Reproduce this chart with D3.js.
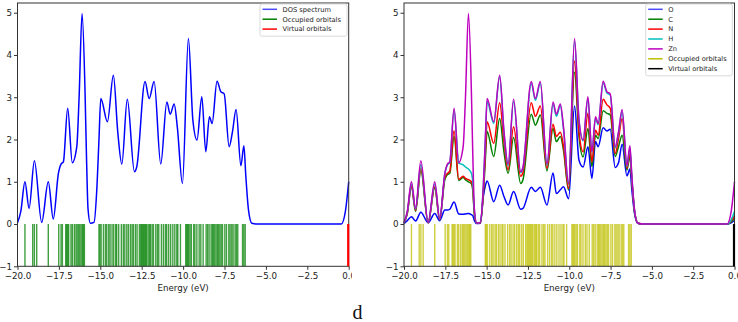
<!DOCTYPE html>
<html>
<head>
<meta charset="utf-8">
<script src="https://cdn.jsdelivr.net/npm/d3@7"></script>
<style>
  body { margin: 0; background: #fff; }
  svg { display: block; font-family: "DejaVu Sans", sans-serif; }
</style>
</head>
<body>
<div id="chart"></div>
<script>
// energy grid (eV) shared by all curves
var energy = [-20.0, -19.8, -19.55, -19.3, -18.98, -18.54, -18.14, -17.84, -17.53, -17.37,
  -17.23, -16.97, -16.69, -16.42, -16.28, -16.10, -15.92, -15.84, -15.74, -15.60,
  -15.38, -15.20, -15.08, -14.97, -14.57, -14.21, -13.95, -13.70, -13.37, -12.94,
  -12.80, -12.30, -12.05, -11.75, -11.35, -10.98, -10.78, -10.54, -10.35, -10.04,
  -9.68, -9.41, -9.16, -8.87, -8.63, -8.41, -8.25, -7.95, -7.72, -7.52,
  -7.22, -7.02, -6.80, -6.51, -6.33, -6.21, -6.05, -5.85, -5.50, -0.45,
  -0.20, 0.0];

// stacked partial DOS as plotted (each one includes the ones before)
var dosO = [0.01, 0.08, 0.17, 0.07, 0.28, 0.03, 0.25, 0.08, 0.33, 0.33,
  0.35, 0.52, 0.24, 0.23, 0.24, 0.25, 0.22, 0.20, 0.08, 0.01,
  0.02, 0.65, 0.90, 1.02, 0.53, 0.92, 0.65, 0.45, 0.77, 0.35,
  0.37, 0.87, 0.77, 0.87, 0.45, 1.21, 0.72, 0.81, 0.88, 0.60,
  2.79, 1.51, 1.35, 1.83, 1.08, 1.95, 1.83, 2.28, 2.20, 2.24,
  1.34, 1.45, 1.89, 1.14, 1.30, 0.80, 0.25, 0.02, 0.0, 0.0,
  0.03, 0.08];
var dosC = [0.02, 0.25, 0.88, 0.30, 1.26, 0.03, 0.86, 0.10, 1.05, 1.17,
  1.20, 2.07, 1.03, 1.10, 1.05, 1.00, 0.95, 0.80, 0.22, 0.02,
  0.03, 0.70, 1.50, 2.19, 1.60, 2.50, 1.70, 1.20, 2.05, 0.96,
  1.05, 2.60, 2.34, 2.58, 1.26, 2.26, 1.95, 2.07, 1.75, 0.80,
  3.60, 2.07, 1.59, 2.26, 1.36, 2.10, 2.02, 2.68, 2.62, 2.58,
  1.60, 1.83, 2.10, 1.28, 1.60, 1.00, 0.30, 0.02, 0.0, 0.0,
  0.05, 0.15];
var dosN = [0.02, 0.26, 0.90, 0.32, 1.32, 0.03, 0.88, 0.11, 1.10, 1.20,
  1.25, 2.21, 1.06, 1.13, 1.08, 1.05, 1.00, 0.85, 0.25, 0.02,
  0.03, 0.75, 1.65, 2.42, 1.91, 2.87, 1.95, 1.28, 2.30, 1.13,
  1.22, 2.87, 2.55, 2.79, 1.32, 2.36, 2.07, 2.17, 1.85, 0.84,
  3.86, 2.18, 1.71, 2.62, 1.47, 2.22, 2.10, 2.95, 2.82, 2.74,
  1.67, 2.02, 2.50, 1.32, 1.70, 1.05, 0.31, 0.02, 0.0, 0.0,
  0.07, 0.20];
var dosH = [0.02, 0.28, 0.95, 0.35, 1.40, 0.04, 0.95, 0.12, 1.18, 1.40,
  1.45, 2.70, 1.44, 1.40, 1.35, 1.30, 1.20, 1.00, 0.30, 0.02,
  0.04, 0.88, 1.95, 2.90, 2.38, 3.48, 2.15, 1.38, 2.90, 1.22,
  1.32, 3.33, 2.93, 3.33, 1.40, 2.84, 2.55, 2.80, 2.25, 0.94,
  4.33, 2.45, 1.97, 2.97, 1.70, 2.50, 2.35, 3.34, 3.10, 3.05,
  1.80, 2.15, 2.65, 1.36, 1.80, 1.10, 0.32, 0.02, 0.0, 0.0,
  0.10, 0.30];
var dosZn = [0.03, 0.30, 1.00, 0.37, 1.50, 0.04, 1.00, 0.12, 1.20, 1.42,
  1.47, 2.74, 1.45, 1.83, 3.00, 4.98, 3.10, 1.70, 0.35, 0.02,
  0.04, 0.90, 2.00, 2.97, 2.42, 3.52, 2.20, 1.42, 2.95, 1.24,
  1.35, 3.37, 2.97, 3.37, 1.42, 2.89, 2.60, 2.84, 2.30, 0.96,
  4.39, 2.46, 1.99, 3.01, 1.71, 2.54, 2.38, 3.38, 3.13, 3.08,
  1.83, 2.18, 2.71, 1.38, 1.85, 1.12, 0.33, 0.02, 0.0, 0.0,
  0.30, 1.00];

// orbital energies (eV)
var occupied = [-19.55, -19.08, -18.98, -18.84, -18.14, -17.51, -17.37, -17.29, -17.09, -17.03,
  -16.97, -16.91, -16.77, -16.69, -16.57, -16.47, -16.40, -16.32, -16.24, -16.16,
  -16.08, -16.02, -15.96, -15.08, -15.02, -14.95, -14.81, -14.69, -14.61, -14.49,
  -14.41, -14.29, -14.19, -14.07, -14.01, -13.89, -13.73, -13.61, -13.52, -13.40,
  -13.30, -13.18, -13.08, -13.00, -12.88, -12.78, -12.64, -12.56, -12.50, -12.44,
  -12.38, -12.32, -12.26, -12.20, -12.11, -12.03, -11.97, -11.87, -11.79, -11.65,
  -11.55, -11.47, -11.31, -11.19, -11.07, -10.99, -10.87, -10.75, -10.62, -10.50,
  -10.38, -10.32, -10.16, -9.84, -9.78, -9.72, -9.66, -9.58, -9.50, -9.36,
  -9.29, -9.17, -9.03, -8.93, -8.79, -8.61, -8.52, -8.43, -8.31, -8.23,
  -8.17, -8.09, -8.01, -7.93, -7.86, -7.78, -7.70, -7.62, -7.48, -7.38,
  -7.24, -7.16, -7.06, -6.98, -6.86, -6.78, -6.70, -6.41, -6.33, -6.25];
var virtualOrb = [0.0];

var xTicks = [-20, -17.5, -15, -12.5, -10, -7.5, -5, -2.5, 0];
var yTicks = [-1, 0, 1, 2, 3, 4, 5];

var svg = d3.select('#chart')
    .append('svg')
    .attr('width', 738)
    .attr('height', 322);

var drawPanel = function(opts){

    var x = d3.scaleLinear().domain([-20, 0]).range([opts.left, opts.right]);
    var y = d3.scaleLinear().domain([-1, 5.23]).range([266.3, 3]);

    var g = svg.append('g');
    if (opts.clipId) {
        svg.append('clipPath').attr('id', opts.clipId)
            .append('rect').attr('x', 0).attr('y', 0).attr('width', opts.clipW).attr('height', 322);
        g.attr('clip-path', 'url(#' + opts.clipId + ')');
    }

    // occupied orbital sticks
    g.selectAll('line.occ')
        .data(occupied)
        .enter().append('line')
        .attr('class', 'occ')
        .attr('x1', function(d){return x(d);})
        .attr('x2', function(d){return x(d);})
        .attr('y1', y(-1))
        .attr('y2', y(0))
        .style('stroke', opts.occColor)
        .style('stroke-width', 1.4)
        .style('stroke-opacity', 0.75);

    // dos curves
    var line = function(vals){
        return d3.line()
            .x(function(d, i){return x(energy[i]);})
            .y(function(d){return y(d);})
            .curve(d3.curveMonotoneX)(vals);
    };
    opts.curves.forEach(function(c){
        g.append('path')
            .attr('d', line(c.values))
            .style('fill', 'none')
            .style('stroke', c.color)
            .style('stroke-width', 1.5)
            .style('stroke-linejoin', 'round');
    });

    // axes
    var xAxis = g.append('g')
        .attr('transform', 'translate(0,' + y(-1) + ')')
        .call(d3.axisBottom(x).tickValues(xTicks).tickSize(3.5).tickPadding(3)
            .tickFormat(d3.format('.1f')));
    var yAxis = g.append('g')
        .attr('transform', 'translate(' + opts.left + ',0)')
        .call(d3.axisLeft(y).tickValues(yTicks).tickSize(3.5).tickPadding(2)
            .tickFormat(d3.format('d')));
    [xAxis, yAxis].forEach(function(a){
        a.select('.domain').remove();
        a.selectAll('text').style('font-size', '8.7px').style('fill', '#222')
            .style('font-family', '"DejaVu Sans", sans-serif');
        a.selectAll('line').style('stroke', '#333');
    });

    g.append('rect')
        .attr('x', opts.left)
        .attr('y', y(5.23))
        .attr('width', opts.right - opts.left)
        .attr('height', y(-1) - y(5.23))
        .style('fill', 'none')
        .style('stroke', '#333')
        .style('stroke-width', 1);

    // virtual orbital sticks, drawn over the frame
    g.selectAll('line.virt')
        .data(virtualOrb)
        .enter().append('line')
        .attr('class', 'virt')
        .attr('x1', function(d){return x(d) - 0.5;})
        .attr('x2', function(d){return x(d) - 0.5;})
        .attr('y1', y(-1))
        .attr('y2', y(0))
        .style('stroke', opts.virtColor)
        .style('stroke-width', 2.2);

    g.append('text')
        .attr('x', (opts.left + opts.right) / 2)
        .attr('y', 291)
        .attr('text-anchor', 'middle')
        .style('font-size', '8.7px')
        .style('fill', '#222')
        .text('Energy (eV)');

    // legend
    var lg = g.append('g');
    lg.append('rect')
        .attr('x', opts.legendX)
        .attr('y', 4)
        .attr('width', opts.legendW)
        .attr('height', opts.legend.length * 9.9 + 2.5)
        .attr('rx', 2)
        .style('fill', '#fff')
        .style('fill-opacity', 0.8)
        .style('stroke', '#d0d0d0')
        .style('stroke-width', 0.8);
    opts.legend.forEach(function(item, i){
        var yy = 9.3 + i * 9.9;
        lg.append('line')
            .attr('x1', opts.legendX + 2.5).attr('x2', opts.legendX + 17)
            .attr('y1', yy).attr('y2', yy)
            .style('stroke', item.color)
            .style('stroke-width', 1.5)
            .style('stroke-opacity', item.alpha || 1);
        lg.append('text')
            .attr('x', opts.legendX + 22.5)
            .attr('y', yy)
            .attr('dy', '0.35em')
            .style('font-size', '6.7px')
            .style('fill', '#222')
            .text(item.label);
    });
};

drawPanel({
    left: 17.5, right: 348.7, clipId: 'clipLeft', clipW: 352,
    occColor: 'green', virtColor: 'red',
    curves: [{values: dosZn, color: '#0000ff'}],
    legendX: 260, legendW: 87,
    legend: [
        {label: 'DOS spectrum', color: '#0000ff', alpha: 0.7},
        {label: 'Occupied orbitals', color: 'green'},
        {label: 'Virtual orbitals', color: 'red'}
    ]
});

drawPanel({
    left: 404, right: 734.5,
    occColor: '#bfbf00', virtColor: 'black',
    curves: [
        {values: dosO, color: '#0000ff'},
        {values: dosC, color: 'green'},
        {values: dosN, color: 'red'},
        {values: dosH, color: '#00bfbf'},
        {values: dosZn, color: '#bf00bf'}
    ],
    legendX: 645.7, legendW: 86.6,
    legend: [
        {label: 'O', color: '#0000ff', alpha: 0.7},
        {label: 'C', color: 'green'},
        {label: 'N', color: 'red'},
        {label: 'H', color: '#00bfbf'},
        {label: 'Zn', color: '#bf00bf'},
        {label: 'Occupied orbitals', color: '#bfbf00'},
        {label: 'Virtual orbitals', color: 'black'}
    ]
});

svg.append('text')
    .attr('x', 357.5)
    .attr('y', 319)
    .attr('text-anchor', 'middle')
    .style('font-family', '"Liberation Serif", "DejaVu Serif", serif')
    .style('font-size', '20px')
    .style('fill', '#111')
    .text('d');
</script>
</body>
</html>
